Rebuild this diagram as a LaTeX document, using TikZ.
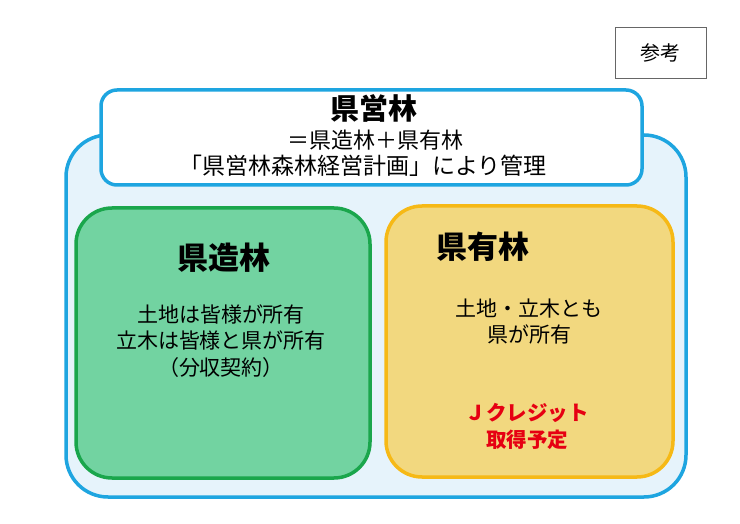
\documentclass[tikz,border=0pt]{standalone}
\usepackage{fontspec}
\setmainfont{Noto Sans CJK JP}
\usetikzlibrary{positioning}
\definecolor{skyblue}{HTML}{1EA5E0}
\definecolor{skyfill}{HTML}{E6F3FB}
\definecolor{zouline}{HTML}{1AA64C}
\definecolor{zoufill}{HTML}{72D3A1}
\definecolor{yuuline}{HTML}{F6B916}
\definecolor{yuufill}{HTML}{F2D87F}
\definecolor{credred}{HTML}{E60012}

\tikzset{
  forestbox/.style={rounded corners=#1, line width=3.5pt},
  bodytext/.style={align=center, font=\fontsize{21}{26.5}\selectfont},
  headtext/.style={font=\fontsize{31}{36}\selectfont\bfseries}
}

\begin{document}
\begin{tikzpicture}[x=1pt,y=-1pt]
\useasboundingbox (0,0) rectangle (740,524);
\fill[white] (0,0) rectangle (740,524);

% reference tag
\node[draw=black!60, line width=0.8pt, minimum width=91pt, minimum height=51pt,
  font=\fontsize{20}{24}\selectfont] (sanko) at (660.5,52.5) {参考};

% outer frame and title
\node[forestbox=42pt, draw=skyblue, fill=skyfill, minimum width=620pt, minimum height=362pt] (outer) at (376,316) {};
\node[forestbox=16pt, draw=skyblue, fill=white, minimum width=541pt, minimum height=95pt] (title) at (371.5,137.5) {};
\node[font=\fontsize{29}{34}\selectfont\bfseries] (titlehead) at (374,108) {県営林};
\node[font=\fontsize{22}{26}\selectfont] (titleeq) at (375,140) {＝県造林＋県有林};
\node[font=\fontsize{23}{26}\selectfont] (titleplan) at (363,166) {「県営林森林経営計画」により管理};

% prefecture-planted forest
\node[forestbox=36pt, draw=zouline, fill=zoufill, minimum width=294pt, minimum height=270pt] (zourin) at (223,343) {};
\node[headtext] (zouhead) at (224,258) {県造林};
\node[bodytext] (zoubody) at (221,341) {土地は皆様が所有\\立木は皆様と県が所有\\（分収契約）};

% prefecture-owned forest
\node[forestbox=36pt, draw=yuuline, fill=yuufill, minimum width=287pt, minimum height=271pt] (yuurin) at (529.5,341.5) {};
\node[headtext] (yuuhead) at (483,247) {県有林};
\node[bodytext] (yuubody) at (529,321.5) {土地・立木とも\\県が所有};
\node[bodytext, text=credred, font=\fontsize{20.5}{26.5}\selectfont\bfseries] (yuucredit) at (527,426.5) {Ｊクレジット\\取得予定};
\end{tikzpicture}
\end{document}
